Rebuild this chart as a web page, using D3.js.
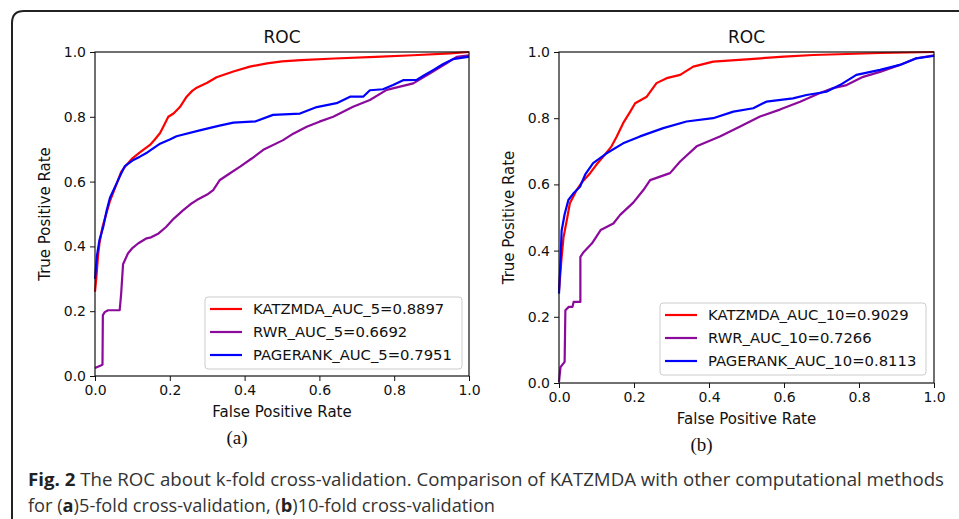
<!DOCTYPE html>
<html>
<head>
<meta charset="utf-8">
<script src="https://cdn.jsdelivr.net/npm/d3@7"></script>
<style>
	body { margin: 0; background: #fff; }
	svg { display: block; }
	.tick text { font-family: "DejaVu Sans", sans-serif; font-size: 14px; fill: #111; }
	.tick line, .domain { stroke: #111; }
</style>
</head>
<body>
<div id="gv-roc"></div>
<script>

// 5-fold curves [fpr, tpr]
const katz5 = [[0,0.26],[0.004,0.31],[0.008,0.37],[0.012,0.41],[0.02,0.46],[0.03,0.5],[0.04,0.54],[0.05,0.57],[0.06,0.6],[0.07,0.63],[0.083,0.65],[0.1,0.672],[0.12,0.69],[0.147,0.713],[0.16,0.73],[0.174,0.75],[0.185,0.775],[0.196,0.8],[0.21,0.81],[0.227,0.83],[0.245,0.862],[0.26,0.88],[0.272,0.89],[0.3,0.905],[0.325,0.922],[0.37,0.94],[0.414,0.955],[0.46,0.965],[0.5,0.971],[0.55,0.975],[0.64,0.98],[0.75,0.985],[0.85,0.99],[0.95,0.996],[1,1]];
const rwr5 = [[0,0.025],[0.017,0.033],[0.02,0.035],[0.021,0.188],[0.026,0.197],[0.035,0.203],[0.066,0.203],[0.07,0.255],[0.075,0.345],[0.088,0.378],[0.1,0.395],[0.115,0.409],[0.138,0.425],[0.15,0.428],[0.17,0.44],[0.19,0.46],[0.21,0.485],[0.236,0.512],[0.255,0.53],[0.272,0.543],[0.3,0.56],[0.316,0.574],[0.334,0.605],[0.36,0.625],[0.388,0.646],[0.42,0.672],[0.45,0.698],[0.503,0.728],[0.53,0.748],[0.566,0.769],[0.6,0.785],[0.637,0.8],[0.69,0.831],[0.735,0.852],[0.78,0.883],[0.851,0.903],[0.896,0.934],[0.94,0.965],[0.967,0.985],[1,0.99]];
const page5 = [[0,0.3],[0.005,0.37],[0.012,0.42],[0.022,0.46],[0.031,0.51],[0.04,0.55],[0.05,0.575],[0.06,0.6],[0.07,0.625],[0.08,0.648],[0.1,0.665],[0.12,0.677],[0.14,0.69],[0.174,0.717],[0.2,0.73],[0.218,0.74],[0.28,0.758],[0.33,0.772],[0.37,0.782],[0.43,0.786],[0.476,0.806],[0.548,0.81],[0.593,0.83],[0.646,0.842],[0.682,0.862],[0.717,0.862],[0.735,0.882],[0.77,0.885],[0.797,0.898],[0.824,0.913],[0.86,0.914],[0.877,0.926],[0.904,0.944],[0.93,0.962],[0.957,0.978],[0.997,0.985],[1,0.985]];

// 10-fold curves [fpr, tpr]
const katz10 = [[0,0.28],[0.007,0.38],[0.012,0.44],[0.021,0.493],[0.029,0.543],[0.038,0.563],[0.047,0.583],[0.06,0.605],[0.083,0.634],[0.1,0.66],[0.118,0.684],[0.14,0.715],[0.154,0.745],[0.171,0.785],[0.19,0.82],[0.203,0.845],[0.234,0.865],[0.26,0.906],[0.287,0.921],[0.323,0.931],[0.358,0.956],[0.411,0.971],[0.5,0.978],[0.6,0.986],[0.678,0.991],[0.856,0.997],[1,1]];
const rwr10 = [[0,0.003],[0.004,0.048],[0.015,0.064],[0.017,0.22],[0.026,0.23],[0.036,0.23],[0.039,0.245],[0.057,0.245],[0.057,0.381],[0.066,0.396],[0.088,0.422],[0.111,0.462],[0.145,0.482],[0.163,0.508],[0.198,0.545],[0.225,0.583],[0.243,0.613],[0.296,0.634],[0.323,0.669],[0.367,0.715],[0.429,0.745],[0.483,0.775],[0.536,0.805],[0.589,0.826],[0.643,0.85],[0.696,0.876],[0.731,0.891],[0.767,0.9],[0.811,0.925],[0.856,0.94],[0.909,0.961],[0.953,0.981],[1,0.99]];
const page10 = [[0,0.27],[0.004,0.37],[0.007,0.46],[0.015,0.51],[0.025,0.553],[0.04,0.575],[0.056,0.593],[0.07,0.63],[0.091,0.664],[0.127,0.694],[0.171,0.724],[0.216,0.745],[0.278,0.77],[0.34,0.79],[0.411,0.8],[0.465,0.82],[0.518,0.83],[0.553,0.85],[0.624,0.86],[0.66,0.87],[0.713,0.88],[0.749,0.9],[0.793,0.931],[0.856,0.946],[0.909,0.961],[0.953,0.981],[0.998,0.988],[1,0.99]];

const labels5 = ["KATZMDA_AUC_5=0.8897", "RWR_AUC_5=0.6692", "PAGERANK_AUC_5=0.7951"];
const labels10 = ["KATZMDA_AUC_10=0.9029", "RWR_AUC_10=0.7266", "PAGERANK_AUC_10=0.8113"];
const colors = ["#ff0000", "#8b0a9c", "#0000ff"];
const ticks = [0, 0.2, 0.4, 0.6, 0.8, 1.0];

const width = 959;
const height = 519;

let svg = d3.select('#gv-roc').append('svg')
.attr('width', width)
.attr('height', height);

svg.append('rect').attr('width', width).attr('height', height).attr('fill', '#fff');

// page frame with rounded corner
svg.append('path')
.attr('d', 'M12,519 V23 Q12,11 24,11 H959')
.attr('fill', 'none')
.attr('stroke', '#222')
.attr('stroke-width', 2);

const drawPanel = (box, series, labels, legendBox, subLabel) => {

	let x = d3.scaleLinear().domain([0, 1]).range([box.x0, box.x1]);
	let y = d3.scaleLinear().domain([0, 1]).range([box.y0, box.y1]);

	let g = svg.append('g');

	let line = d3.line()
	.x(d => x(d[0]))
	.y(d => y(d[1]));

	g.selectAll('path.roc')
	.data(series)
	.enter()
	.append('path')
	.attr('class', 'roc')
	.attr('d', line)
	.attr('fill', 'none')
	.attr('stroke', (d, i) => colors[i])
	.attr('stroke-width', 2.2)
	.attr('stroke-linejoin', 'round');

	// frame
	g.append('rect')
	.attr('x', box.x0)
	.attr('y', box.y1)
	.attr('width', box.x1 - box.x0)
	.attr('height', box.y0 - box.y1)
	.attr('fill', 'none')
	.attr('stroke', '#111')
	.attr('stroke-width', 1.2);

	g.append('g')
	.attr('transform', 'translate(0,' + box.y0 + ')')
	.call(d3.axisBottom(x).tickValues(ticks).tickFormat(d3.format('.1f')).tickSize(5).tickPadding(4))
	.call(a => a.select('.domain').remove());

	g.append('g')
	.attr('transform', 'translate(' + box.x0 + ',0)')
	.call(d3.axisLeft(y).tickValues(ticks).tickFormat(d3.format('.1f')).tickSize(5).tickPadding(4))
	.call(a => a.select('.domain').remove());

	let cx = (box.x0 + box.x1) / 2;

	g.append('text')
	.attr('x', cx)
	.attr('y', box.y1 - 9)
	.attr('text-anchor', 'middle')
	.style('font-family', 'DejaVu Sans')
	.style('font-size', '17px')
	.attr('fill', '#111')
	.text('ROC');

	g.append('text')
	.attr('x', cx)
	.attr('y', box.y0 + 41)
	.attr('text-anchor', 'middle')
	.style('font-family', 'DejaVu Sans')
	.style('font-size', '15px')
	.attr('fill', '#111')
	.text('False Positive Rate');

	g.append('text')
	.attr('transform', 'translate(' + (box.x0 - 45) + ',' + ((box.y0 + box.y1) / 2) + ') rotate(-90)')
	.attr('text-anchor', 'middle')
	.style('font-family', 'DejaVu Sans')
	.style('font-size', '15px')
	.attr('fill', '#111')
	.text('True Positive Rate');

	g.append('text')
	.attr('x', cx - 45)
	.attr('y', box.y0 + 68)
	.attr('text-anchor', 'middle')
	.style('font-family', 'Liberation Serif')
	.style('font-size', '19px')
	.attr('fill', '#111')
	.text(subLabel);

	// legend
	let leg = g.append('g');

	leg.append('rect')
	.attr('x', legendBox.x)
	.attr('y', legendBox.y)
	.attr('width', legendBox.w)
	.attr('height', legendBox.h)
	.attr('rx', 3)
	.attr('fill', '#fff')
	.attr('stroke', '#cccccc')
	.attr('stroke-width', 1);

	labels.forEach((label, i) => {
		let ly = legendBox.y + 12 + i * 23;
		leg.append('line')
		.attr('x1', legendBox.x + 5)
		.attr('x2', legendBox.x + 37)
		.attr('y1', ly)
		.attr('y2', ly)
		.attr('stroke', colors[i])
		.attr('stroke-width', 2.2);
		leg.append('text')
		.attr('x', legendBox.x + 48)
		.attr('y', ly + 5)
		.style('font-family', 'DejaVu Sans')
		.style('font-size', '14.8px')
		.attr('fill', '#111')
		.text(label);
	});
}

drawPanel({x0: 95, x1: 469, y0: 376, y1: 52}, [katz5, rwr5, page5], labels5, {x: 205, y: 297, w: 257, h: 72}, '(a)');
drawPanel({x0: 559, x1: 934, y0: 383, y1: 52}, [katz10, rwr10, page10], labels10, {x: 660, y: 303, w: 266, h: 72}, '(b)');

// caption
let cap1 = svg.append('text')
.attr('x', 28)
.attr('y', 486)
.attr('textLength', 916)
.attr('lengthAdjust', 'spacingAndGlyphs')
.style('font-family', 'Open Sans')
.style('font-size', '18px')
.attr('fill', '#333');

cap1.append('tspan').style('font-weight', 'bold').attr('fill', '#222').text('Fig. 2');
cap1.append('tspan').text(' The ROC about k-fold cross-validation. Comparison of KATZMDA with other computational methods');

let cap2 = svg.append('text')
.attr('x', 28)
.attr('y', 512)
.attr('textLength', 467)
.attr('lengthAdjust', 'spacingAndGlyphs')
.style('font-family', 'Open Sans')
.style('font-size', '18px')
.attr('fill', '#333');

cap2.append('tspan').text('for (');
cap2.append('tspan').style('font-weight', 'bold').attr('fill', '#222').text('a');
cap2.append('tspan').text(')5-fold cross-validation, (');
cap2.append('tspan').style('font-weight', 'bold').attr('fill', '#222').text('b');
cap2.append('tspan').text(')10-fold cross-validation');

</script>
</body>
</html>
